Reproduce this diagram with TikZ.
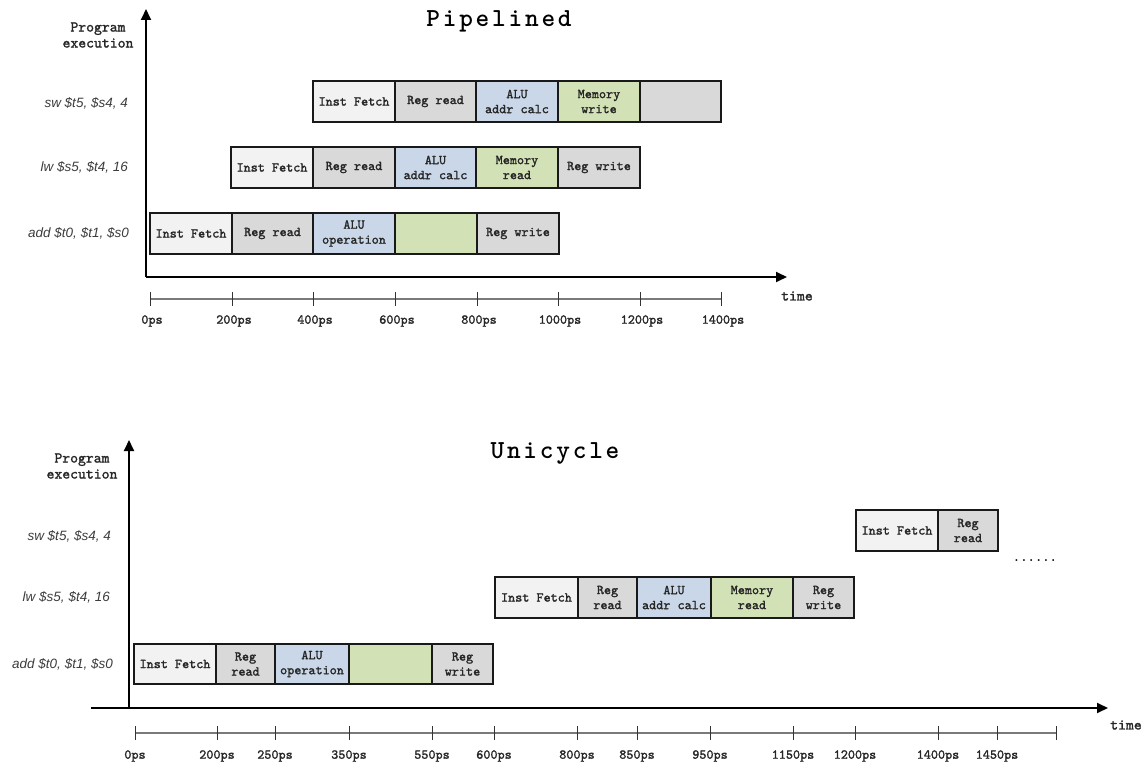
\documentclass[tikz,border=0pt]{standalone}
\usepackage{fontspec}
\setmainfont{Liberation Sans}
\newfontfamily\codefont{lmmono10-regular.otf}[FakeBold=1.6]
\newfontfamily\headfont{lmmonolt10-bold.otf}
\usetikzlibrary{arrows.meta}

\definecolor{fetchfill}{HTML}{F2F2F2}
\definecolor{regfill}{HTML}{D9D9D9}
\definecolor{alufill}{HTML}{C9D7E8}
\definecolor{memfill}{HTML}{D3E1B6}
\definecolor{instgray}{HTML}{3C3C3C}
\definecolor{scalegray}{HTML}{7A7A7A}
\definecolor{boxtext}{HTML}{262626}

% spread the letters of a heading apart
\def\spreadletters#1{\spreadstep#1\relax\unkern}
\def\spreadstep#1{\ifx#1\relax\else#1\kern2.8pt\expandafter\spreadstep\fi}

\tikzset{
  stagebox/.style={draw=black!90, line width=1.4pt, inner sep=0pt, outer sep=0pt,
    align=center, text=boxtext, font=\codefont\fontsize{13.5}{15}\selectfont},
  axisline/.style={line width=1.8pt, -{Triangle[length=11pt,width=10pt]}},
  scaleline/.style={scalegray, line width=1.6pt},
  tickmark/.style={black!80, line width=0.9pt},
  ticklabel/.style={font=\codefont\fontsize{13.5}{13.5}\selectfont, text=boxtext, inner sep=0pt},
  dotslabel/.style={font=\headfont\fontsize{14}{14}\selectfont, text=black, inner sep=0pt},
  instlabel/.style={font=\itshape\fontsize{13.5}{13.5}\selectfont, text=instgray, anchor=east, inner sep=0pt},
  axislabel/.style={font=\codefont\fontsize{15}{16}\selectfont, text=boxtext, align=center, inner sep=0pt},
  timelabel/.style={font=\codefont\fontsize{15}{15}\selectfont, text=boxtext, inner sep=0pt},
  charttitle/.style={font=\headfont\fontsize{26}{26}\selectfont, inner sep=0pt}
}

% one pipeline stage: name, left x, right x, top y, bottom y, fill, text
\newcommand{\stg}[7]{%
  \node[stagebox, fill=#6, minimum width={(#3-#2)*1pt}, minimum height={(#5-#4)*1pt}]
    (#1) at ({(#2+#3)/2},{(#4+#5)/2}) {#7};}

\begin{document}
\begin{tikzpicture}[x=1pt,y=-1pt]
\useasboundingbox (0,0) rectangle (1143,765);

% ---------------- Pipelined ----------------
\node[charttitle] (ptitle) at (499,21) {\spreadletters{Pipelined}};
\node[axislabel] (pexec) at (98,35) {Program\\execution};

\coordinate (porig) at (146,277);
\coordinate (ptop) at (146,9);
\coordinate (pright) at (787,277);
\draw[axisline] (porig) -- (ptop);
\draw[axisline] (porig) -- (pright);
\node[timelabel] (ptime) at (797,296) {time};

% sw
\node[instlabel] (psw) at (128,103) {sw \$t5, \$s4, 4};
\stg{psw1}{313}{395}{81}{122}{fetchfill}{Inst Fetch}
\stg{psw2}{395}{476}{81}{122}{regfill}{Reg read}
\stg{psw3}{476}{558}{81}{122}{alufill}{ALU\\addr calc}
\stg{psw4}{558}{640}{81}{122}{memfill}{Memory\\write}
\stg{psw5}{640}{721}{81}{122}{regfill}{}
% lw
\node[instlabel] (plw) at (128,167) {lw \$s5, \$t4, 16};
\stg{plw1}{231}{313}{147}{188}{fetchfill}{Inst Fetch}
\stg{plw2}{313}{395}{147}{188}{regfill}{Reg read}
\stg{plw3}{395}{476}{147}{188}{alufill}{ALU\\addr calc}
\stg{plw4}{476}{558}{147}{188}{memfill}{Memory\\read}
\stg{plw5}{558}{640}{147}{188}{regfill}{Reg write}
% add
\node[instlabel] (padd) at (129,233) {add \$t0, \$t1, \$s0};
\stg{padd1}{150}{232}{213}{254}{fetchfill}{Inst Fetch}
\stg{padd2}{232}{313}{213}{254}{regfill}{Reg read}
\stg{padd3}{313}{395}{213}{254}{alufill}{ALU\\operation}
\stg{padd4}{395}{477}{213}{254}{memfill}{}
\stg{padd5}{477}{559}{213}{254}{regfill}{Reg write}

% time scale
\coordinate (pscaleL) at (150,299);
\coordinate (pscaleR) at (721,299);
\draw[scaleline] (pscaleL) -- (pscaleR);
\foreach \x/\lab [count=\i] in {150/0ps,232/200ps,313/400ps,395/600ps,477/800ps,558/1000ps,640/1200ps,721/1400ps}{
  \coordinate (pt\i) at (\x,299);
  \draw[tickmark] (pt\i) ++(0,-7) -- ++(0,14);
  \node[ticklabel] (pl\i) at (\x+2,321) {\lab};
}

% ---------------- Unicycle ----------------
\node[charttitle] (utitle) at (555,453) {\spreadletters{Unicycle}};
\node[axislabel] (uexec) at (82,466) {Program\\execution};

\coordinate (uorig) at (129,708);
\coordinate (utop) at (129,440);
\coordinate (uleft) at (91,708);
\coordinate (uright) at (1108,708);
\draw[axisline] (uorig) -- (utop);
\draw[axisline] (uleft) -- (uright);
\node[timelabel] (utime) at (1126,725) {time};

% sw
\node[instlabel] (usw) at (111,536) {sw \$t5, \$s4, 4};
\stg{usw1}{856}{938}{510}{551}{fetchfill}{Inst Fetch}
\stg{usw2}{938}{998}{510}{551}{regfill}{Reg\\read}
\node[dotslabel] (udots) at (1035,561) {......};
% lw
\node[instlabel] (ulw) at (110,597) {lw \$s5, \$t4, 16};
\stg{ulw1}{495}{578}{577}{618}{fetchfill}{Inst Fetch}
\stg{ulw2}{578}{637}{577}{618}{regfill}{Reg\\read}
\stg{ulw3}{637}{711}{577}{618}{alufill}{ALU\\addr calc}
\stg{ulw4}{711}{793}{577}{618}{memfill}{Memory\\read}
\stg{ulw5}{793}{854}{577}{618}{regfill}{Reg\\write}
% add
\node[instlabel] (uadd) at (113,664) {add \$t0, \$t1, \$s0};
\stg{uadd1}{134}{216}{644}{684}{fetchfill}{Inst Fetch}
\stg{uadd2}{216}{275}{644}{684}{regfill}{Reg\\read}
\stg{uadd3}{275}{349}{644}{684}{alufill}{ALU\\operation}
\stg{uadd4}{349}{432}{644}{684}{memfill}{}
\stg{uadd5}{432}{493}{644}{684}{regfill}{Reg\\write}

% time scale
\coordinate (uscaleL) at (135,733);
\coordinate (uscaleR) at (1056,733);
\draw[scaleline] (uscaleL) -- (uscaleR);
\foreach \x/\lab [count=\i] in {135/0ps,217/200ps,275/250ps,349/350ps,432/550ps,494/600ps,577/800ps,637/850ps,710/950ps,793/1150ps,855/1200ps,938/1400ps,997/1450ps}{
  \coordinate (ut\i) at (\x,733);
  \draw[tickmark] (ut\i) ++(0,-7) -- ++(0,14);
  \node[ticklabel] (ul\i) at (\x,756) {\lab};
}
\coordinate (utend) at (1056,733);
\draw[tickmark] (utend) ++(0,-7) -- ++(0,14);

\end{tikzpicture}
\end{document}
